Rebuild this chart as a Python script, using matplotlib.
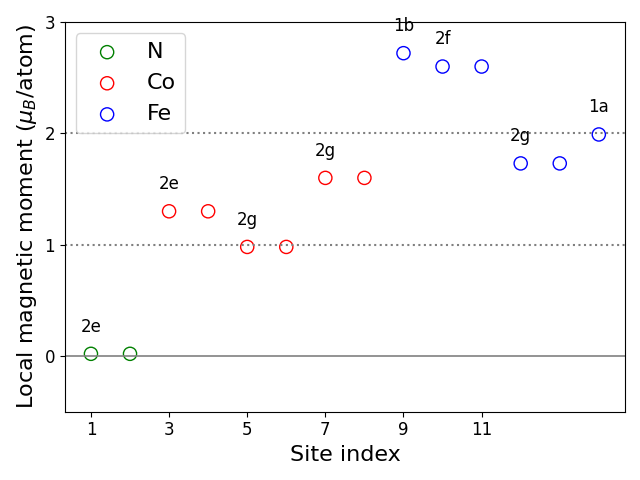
import matplotlib
matplotlib.use("Agg")
import matplotlib.pyplot as plt

n_sites = [1, 2]
n_vals = [0.02, 0.02]
co_sites = [3, 4, 5, 6, 7, 8]
co_vals = [1.30, 1.30, 0.98, 0.98, 1.60, 1.60]
fe_sites = [9, 10, 11, 12, 13, 14]
fe_vals = [2.72, 2.60, 2.60, 1.73, 1.73, 1.99]
wyckoff_sites = [1, 3, 5, 7, 9, 10, 12, 14]
wyckoff_labels = ["2e", "2e", "2g", "2g", "1b", "2f", "2g", "1a"]
wyckoff_vals = [0.02, 1.30, 0.98, 1.60, 2.72, 2.60, 1.73, 1.99]

fig, ax = plt.subplots(figsize=(6.4, 4.8), dpi=100)
ax.axhline(0, color="gray", lw=1.2)
ax.axhline(1, color="gray", ls=":", lw=1.5)
ax.axhline(2, color="gray", ls=":", lw=1.5)
ax.scatter(n_sites, n_vals, s=90, facecolors="none", edgecolors="green", label="N")
ax.scatter(co_sites, co_vals, s=90, facecolors="none", edgecolors="red", label="Co")
ax.scatter(fe_sites, fe_vals, s=90, facecolors="none", edgecolors="blue", label="Fe")
for xs, lab, v in zip(wyckoff_sites, wyckoff_labels, wyckoff_vals):
    ax.text(xs, v + 0.245, lab, ha="center", va="center", fontsize=12)
ax.set_xlim(1/3, 14.67)
ax.set_ylim(-0.5, 3)
ax.set_xticks([1, 3, 5, 7, 9, 11])
ax.set_yticks([0, 1, 2, 3])
ax.tick_params(labelsize=12)
ax.set_xlabel("Site index", fontsize=16)
ax.set_ylabel(r"Local magnetic moment ($\mu_B$/atom)", fontsize=16)
ax.legend(loc="upper left", fontsize=16)
fig.tight_layout()
fig.savefig("out.png")
